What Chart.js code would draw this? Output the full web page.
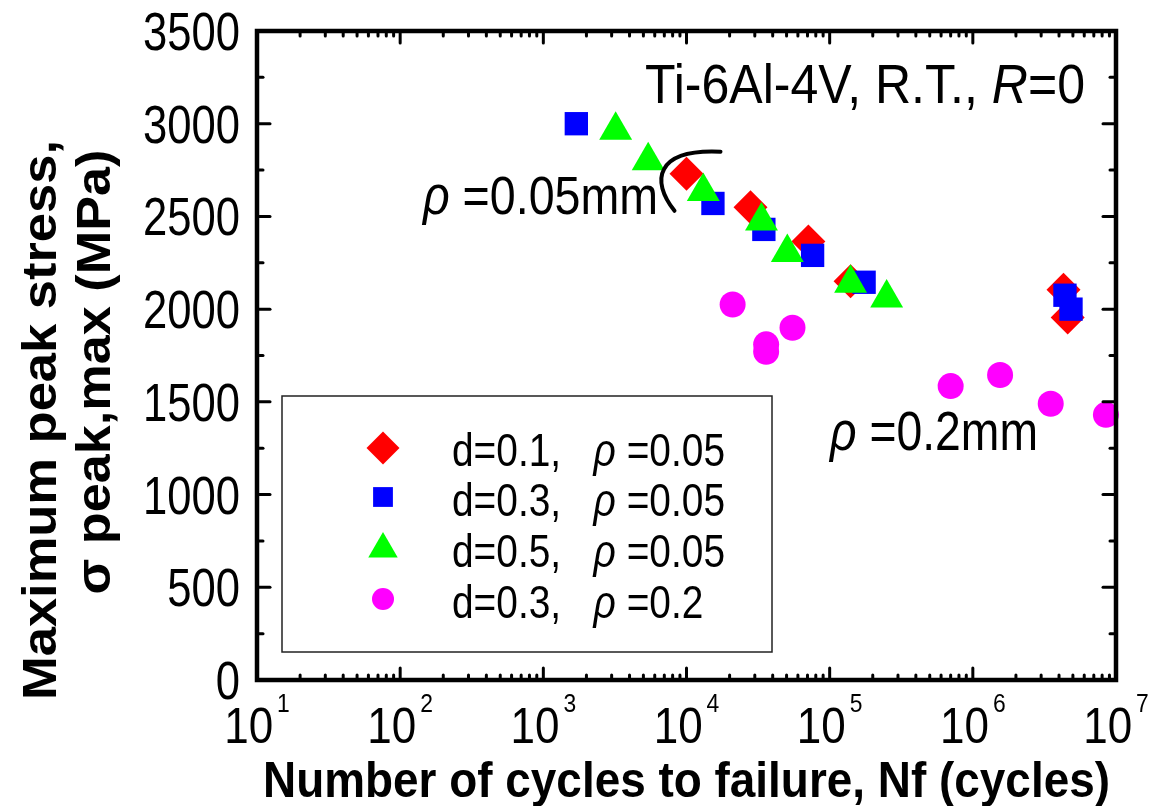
<!DOCTYPE html>
<html>
<head>
<meta charset="utf-8">
<script src="https://cdn.jsdelivr.net/npm/chart.js@4.4.1/dist/chart.umd.min.js"></script>
<style>
  html, body { margin: 0; padding: 0; background: #fff; }
  #wrap { width: 1155px; height: 806px; }
</style>
</head>
<body>
<div id="wrap"><canvas id="snChart" width="1155" height="806"></canvas></div>
<script>
// S-N data, Ti-6Al-4V
const cyclesD01R005 = [1.0e4, 2.8e4, 7.1e4, 1.4e5, 4.3e6, 4.6e6];
const stressD01R005 = [2730, 2550, 2365, 2150, 2105, 1955];

const cyclesD03R005 = [1.7e3, 1.53e4, 3.47e4, 7.6e4, 1.74e5, 4.4e6, 4.85e6];
const stressD03R005 = [3000, 2570, 2430, 2290, 2145, 2075, 2000];

const cyclesD05R005 = [3.2e3, 5.4e3, 1.31e4, 3.34e4, 5.06e4, 1.4e5, 2.5e5];
const stressD05R005 = [2965, 2800, 2635, 2475, 2305, 2140, 2060];

const cyclesD03R02 = [2.1e4, 3.6e4, 3.6e4, 5.5e4, 7.0e5, 1.55e6, 3.5e6, 8.5e6];
const stressD03R02 = [2025, 1810, 1770, 1900, 1585, 1645, 1490, 1430];

const seriesNames = ["d=0.1, ρ=0.05", "d=0.3, ρ=0.05", "d=0.5, ρ=0.05", "d=0.3, ρ=0.2"];
const yTicks = [0, 500, 1000, 1500, 2000, 2500, 3000, 3500];
const xTickExps = [1, 2, 3, 4, 5, 6, 7];

const FAMILY = '"Liberation Sans", Arial, sans-serif';

const toPoints = (xs, ys) => xs.map((x, i) => ({ x: x, y: ys[i] }));

function fontOf(p, size, bold) {
  return (p.italic ? "italic " : "") + (bold ? "bold " : "") + size + "px " + FAMILY;
}

function richWidth(ctx, parts, size, bold) {
  let w = 0;
  parts.forEach((p) => {
    ctx.font = fontOf(p, size, bold);
    w += ctx.measureText(p.t).width;
  });
  return w;
}

// draws text made of plain / italic pieces, squeezed horizontally
function drawRich(ctx, parts, x, y, o) {
  const w = richWidth(ctx, parts, o.size, o.bold);
  const sx = o.width ? o.width / w : o.sx || 1;
  const total = w * sx;
  let left = x;
  if (o.align === "right") left = x - total;
  if (o.align === "center") left = x - total / 2;
  ctx.save();
  ctx.translate(left, y);
  ctx.scale(sx, 1);
  ctx.textAlign = "left";
  ctx.textBaseline = "alphabetic";
  ctx.fillStyle = "#000";
  let cx = 0;
  parts.forEach((p) => {
    ctx.font = fontOf(p, o.size, o.bold);
    ctx.fillText(p.t, cx, 0);
    cx += ctx.measureText(p.t).width;
  });
  ctx.restore();
  return sx;
}

function splitRho(label) {
  const i = label.indexOf("ρ");
  return [
    { t: label.slice(0, i) + "  " },
    { t: "ρ", italic: true },
    { t: " " + label.slice(i + 1) },
  ];
}

function marker(ctx, style, x, y, r, color) {
  ctx.save();
  ctx.fillStyle = color;
  ctx.beginPath();
  if (style === "rectRot") {
    ctx.moveTo(x - r, y); ctx.lineTo(x, y - r); ctx.lineTo(x + r, y); ctx.lineTo(x, y + r);
  } else if (style === "rect") {
    const s = r * Math.SQRT1_2;
    ctx.rect(x - s, y - s, 2 * s, 2 * s);
  } else if (style === "triangle") {
    ctx.moveTo(x, y - r);
    ctx.lineTo(x + r * Math.sin(Math.PI / 3), y + r / 2);
    ctx.lineTo(x - r * Math.sin(Math.PI / 3), y + r / 2);
  } else {
    ctx.arc(x, y, r, 0, Math.PI * 2);
  }
  ctx.closePath();
  ctx.fill();
  ctx.restore();
}

const decorations = {
  id: "decorations",
  afterDatasetsDraw(chart) {
    const ctx = chart.ctx;
    const a = chart.chartArea;
    const xs = chart.scales.x;
    const ys = chart.scales.y;
    ctx.save();
    ctx.strokeStyle = "#000";
    ctx.lineCap = "round";

    // ticks pointing inwards, on all four sides
    ctx.lineWidth = 3;
    const tick = (x1, y1, x2, y2) => { ctx.beginPath(); ctx.moveTo(x1, y1); ctx.lineTo(x2, y2); ctx.stroke(); };
    yTicks.forEach((v, i) => {
      const py = ys.getPixelForValue(v);
      tick(a.left, py, a.left + 13, py);
      tick(a.right, py, a.right - 13, py);
      if (i < yTicks.length - 1) {
        const pm = ys.getPixelForValue((v + yTicks[i + 1]) / 2);
        tick(a.left, pm, a.left + 6, pm);
        tick(a.right, pm, a.right - 6, pm);
      }
    });
    xTickExps.forEach((e, i) => {
      const px = xs.getPixelForValue(Math.pow(10, e));
      tick(px, a.bottom, px, a.bottom - 12);
      tick(px, a.top, px, a.top + 12);
      if (i < xTickExps.length - 1) {
        for (let m = 2; m <= 9; m++) {
          const pm = xs.getPixelForValue(m * Math.pow(10, e));
          tick(pm, a.bottom, pm, a.bottom - 5);
          tick(pm, a.top, pm, a.top + 5);
        }
      }
    });

    // frame
    ctx.lineWidth = 4.5;
    ctx.lineCap = "square";
    ctx.strokeRect(a.left, a.top, a.right - a.left, a.bottom - a.top);

    // y tick labels
    const ySx = richWidth(ctx, [{ t: "3500" }], 53, false);
    yTicks.forEach((v) => {
      const py = ys.getPixelForValue(v);
      drawRich(ctx, [{ t: String(v) }], 240, py + 19, { size: 53, align: "right", sx: 97 / ySx });
    });

    // x tick labels 10^n
    xTickExps.forEach((e) => {
      const px = xs.getPixelForValue(Math.pow(10, e));
      ctx.font = "50px " + FAMILY;
      const wBase = ctx.measureText("10").width * 0.88;
      ctx.font = "26px " + FAMILY;
      const wSup = ctx.measureText(String(e)).width * 0.88;
      const left = px - (wBase + 4 + wSup) / 2;
      drawRich(ctx, [{ t: "10" }], left, 743, { size: 50, sx: 0.88 });
      drawRich(ctx, [{ t: String(e) }], left + wBase + 4, 712, { size: 26, sx: 0.88 });
    });

    // axis titles
    drawRich(ctx, [{ t: "Number of cycles to failure, Nf (cycles)" }], 263, 797, { size: 50, bold: true, width: 847 });
    ctx.save();
    ctx.translate(56, 420);
    ctx.rotate(-Math.PI / 2);
    drawRich(ctx, [{ t: "Maximum peak stress," }], 0, 0, { size: 48, bold: true, align: "center", width: 560 });
    ctx.restore();
    ctx.save();
    ctx.translate(110, 372);
    ctx.rotate(-Math.PI / 2);
    drawRich(ctx, [{ t: "σ peak,max (MPa)" }], 0, 0, { size: 48, bold: true, align: "center", width: 445 });
    ctx.restore();

    // annotations
    drawRich(ctx, [{ t: "Ti-6Al-4V, R.T., " }, { t: "R", italic: true }, { t: "=0" }], 645, 103, { size: 55, width: 440 });
    drawRich(ctx, [{ t: "ρ", italic: true }, { t: " =0.05mm" }], 423, 214, { size: 54, width: 235 });
    drawRich(ctx, [{ t: "ρ", italic: true }, { t: " =0.2mm" }], 830, 450, { size: 55, width: 208 });

    // notch arc next to the first d=0.1 point
    const ax = xs.getPixelForValue(cyclesD01R005[0]);
    const ay = ys.getPixelForValue(stressD01R005[0]);
    ctx.lineWidth = 4;
    ctx.lineCap = "round";
    ctx.beginPath();
    ctx.moveTo(ax - 12, ay + 37);
    ctx.bezierCurveTo(ax - 36, ay + 7, ax - 31, ay - 25, ax + 34, ay - 22);
    ctx.stroke();

    // legend box
    ctx.lineWidth = 1.5;
    ctx.lineCap = "butt";
    ctx.strokeStyle = "#222";
    ctx.strokeRect(282, 396, 490, 256);
    const rowBase = [466, 516, 567, 618];
    const rowMark = [448, 497, 549, 599];
    const legendSx = 273 / richWidth(ctx, splitRho(seriesNames[0]), 46, false);
    chart.data.datasets.forEach((ds, i) => {
      const r = [16.5, 14, 17, 11][i];
      marker(ctx, ds.pointStyle, 383, rowMark[i], r, ds.backgroundColor);
      drawRich(ctx, splitRho(seriesNames[i]), 452, rowBase[i], { size: 46, sx: legendSx });
    });
    ctx.restore();
  },
};

new Chart(document.getElementById("snChart").getContext("2d"), {
  type: "scatter",
  data: {
    datasets: [
      { label: seriesNames[0], data: toPoints(cyclesD01R005, stressD01R005), pointStyle: "rectRot", pointRadius: 17, backgroundColor: "#ff0000", borderWidth: 0, order: 4, clip: false },
      { label: seriesNames[1], data: toPoints(cyclesD03R005, stressD03R005), pointStyle: "rect", pointRadius: 16.5, backgroundColor: "#0000ff", borderWidth: 0, order: 3, clip: false },
      { label: seriesNames[2], data: toPoints(cyclesD05R005, stressD05R005), pointStyle: "triangle", pointRadius: 19, backgroundColor: "#00ff00", borderWidth: 0, order: 2, clip: false },
      { label: seriesNames[3], data: toPoints(cyclesD03R02, stressD03R02), pointStyle: "circle", pointRadius: 13, backgroundColor: "#ff00ff", borderWidth: 0, order: 1, clip: false },
    ],
  },
  options: {
    responsive: false,
    animation: false,
    devicePixelRatio: 1,
    layout: { padding: { left: 257, right: 39, top: 31, bottom: 126 } },
    plugins: { legend: { display: false }, tooltip: { enabled: false } },
    scales: {
      x: { type: "logarithmic", min: 10, max: 1e7, display: false },
      y: { type: "linear", min: 0, max: 3500, display: false },
    },
  },
  plugins: [decorations],
});
</script>
</body>
</html>
